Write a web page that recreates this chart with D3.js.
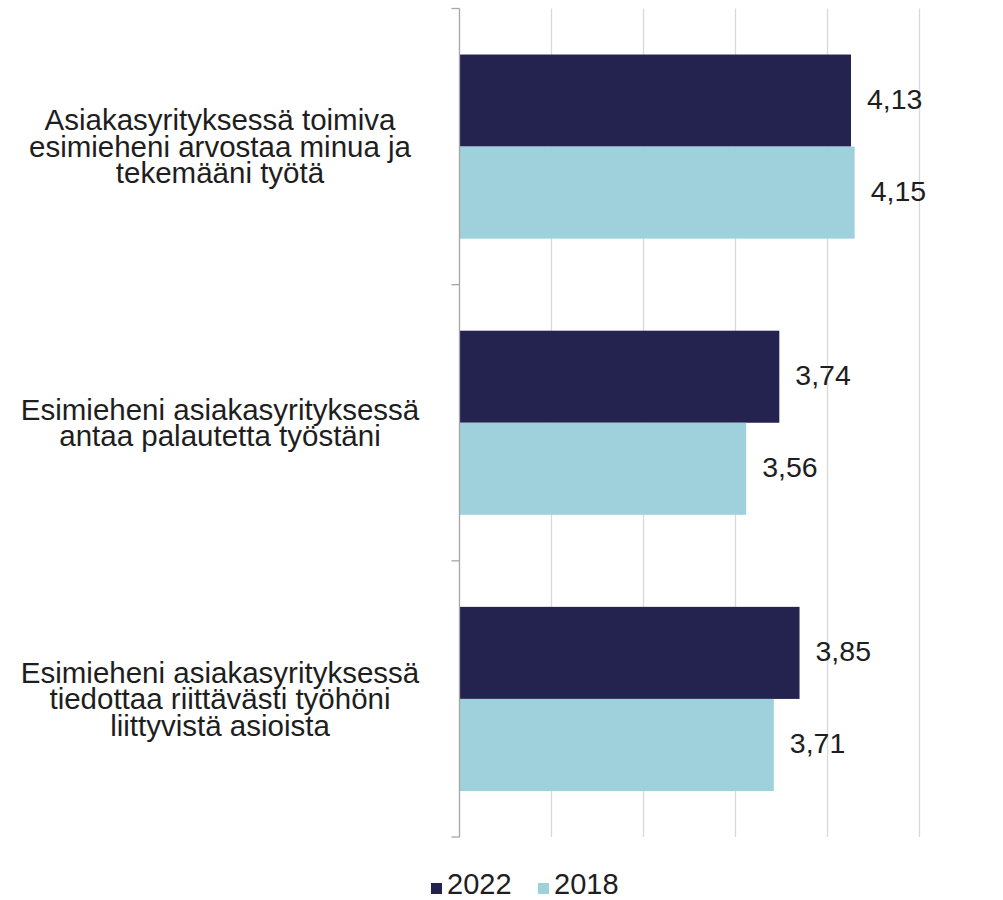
<!DOCTYPE html>
<html>
<head>
<meta charset="utf-8">
<script src="https://cdn.jsdelivr.net/npm/d3@7"></script>
<style>
  html, body { margin: 0; padding: 0; background: #ffffff; }
  svg { display: block; }
  text { font-family: "Liberation Sans", Arial, sans-serif; fill: #1e1e1e; }
</style>
</head>
<body>
<svg id="chart" width="1003" height="900"></svg>
<script>
// ---- data ----
const categories = [
  ["Asiakasyrityksessä toimiva", "esimieheni arvostaa minua ja", "tekemääni työtä"],
  ["Esimieheni asiakasyrityksessä", "antaa palautetta työstäni"],
  ["Esimieheni asiakasyrityksessä", "tiedottaa riittävästi työhöni", "liittyvistä asioista"]
];
const seriesNames = ["2022", "2018"];
const values2022 = [4.13, 3.74, 3.85];
const values2018 = [4.15, 3.56, 3.71];
const gridTicks = [2.5, 3, 3.5, 4, 4.5];
const colors = ["#24224f", "#9ed1dc"];

// ---- layout ----
const svg = d3.select("#chart");
const x0 = 459.5, x1 = 919, yTop = 8.5, yBot = 837;

const x = d3.scaleLinear().domain([2, 4.5]).range([x0, x1]);
const idx = categories.map((d, i) => i);
const y = d3.scaleBand().domain(idx).range([yTop, yBot]).paddingInner(1/3).paddingOuter(1/6);
const ySub = d3.scaleBand().domain(seriesNames).range([0, y.bandwidth()]);
const fmt = v => d3.format(".2f")(v).replace(".", ",");

// gridlines
svg.append("g").selectAll("line").data(gridTicks).join("line")
  .attr("x1", d => Math.round(x(d)) + 0.5).attr("x2", d => Math.round(x(d)) + 0.5)
  .attr("y1", yTop).attr("y2", yBot)
  .attr("stroke", "#d9d9d9").attr("stroke-width", 1.3);

// bars
const series = [values2022, values2018];
series.forEach((vals, s) => {
  const g = svg.append("g");
  g.selectAll("rect").data(vals).join("rect")
    .attr("x", x(2))
    .attr("y", (d, i) => y(i) + ySub(seriesNames[s]))
    .attr("width", d => x(d) - x(2))
    .attr("height", ySub.bandwidth())
    .attr("fill", colors[s]);
  g.selectAll("text").data(vals).join("text")
    .attr("x", d => x(d) + 16)
    .attr("y", (d, i) => y(i) + ySub(seriesNames[s]) + ySub.bandwidth() / 2)
    .attr("dy", "0.3em")
    .attr("font-size", 28.5)
    .text(d => fmt(d));
});

// vertical axis line and category ticks
const step = y.step();
svg.append("line")
  .attr("x1", x0).attr("x2", x0).attr("y1", yTop).attr("y2", yBot)
  .attr("stroke", "#a6a6a6").attr("stroke-width", 1.3);
const tickYs = [0, 1, 2, 3].map(k => yTop + k * step);
svg.append("g").selectAll("line").data(tickYs).join("line")
  .attr("x1", x0 - 8).attr("x2", x0).attr("y1", d => d).attr("y2", d => d)
  .attr("stroke", "#a6a6a6").attr("stroke-width", 1.3);

// category labels
const lineH = 26.5;
categories.forEach((lines, i) => {
  const cy = y(i) + y.bandwidth() / 2;
  const t = svg.append("text")
    .attr("text-anchor", "middle")
    .attr("font-size", 29.5);
  lines.forEach((ln, k) => {
    t.append("tspan")
      .attr("x", 220)
      .attr("y", cy + (k - (lines.length - 1) / 2) * lineH)
      .attr("dy", "0.35em")
      .text(ln);
  });
});

// legend
const legend = svg.append("g");
const legX = [431, 538];
seriesNames.forEach((name, s) => {
  legend.append("rect").attr("x", legX[s]).attr("y", 883).attr("width", 11).attr("height", 11).attr("fill", colors[s]);
  legend.append("text").attr("x", legX[s] + 16).attr("y", 894).attr("font-size", 29).text(name);
});
</script>
</body>
</html>
